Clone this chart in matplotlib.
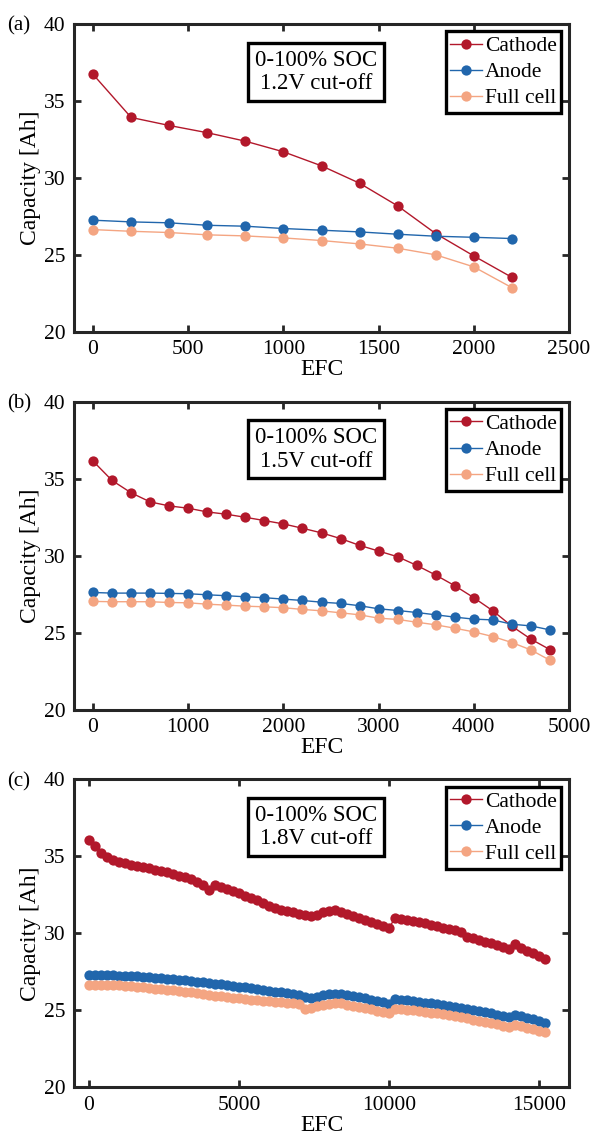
import numpy as np
import matplotlib
matplotlib.use("Agg")
import matplotlib.pyplot as plt

plt.rcParams["font.family"] = ["Liberation Serif", "DejaVu Serif"]
plt.rcParams["mathtext.fontset"] = "stix"

# ── DATA ──────────────────────────────────────────────────────────
efc_a = [0, 200, 400, 600, 800, 1000, 1200, 1400, 1600, 1800, 2000, 2200]
cathode_a = [36.73, 33.93, 33.41, 32.94, 32.39, 31.70, 30.79, 29.66, 28.19, 26.39, 24.94, 23.55]
anode_a = [27.26, 27.15, 27.09, 26.93, 26.87, 26.72, 26.61, 26.50, 26.35, 26.22, 26.15, 26.07]
full_a = [26.65, 26.54, 26.46, 26.31, 26.24, 26.11, 25.94, 25.72, 25.44, 25.01, 24.23, 22.88]

efc_b = [0, 200, 400, 600, 800, 1000, 1200, 1400, 1600, 1800, 2000, 2200, 2400,
         2600, 2800, 3000, 3200, 3400, 3600, 3800, 4000, 4200, 4400, 4600, 4800]
cathode_b = [36.14, 34.88, 34.08, 33.49, 33.23, 33.08, 32.84, 32.69, 32.49, 32.28,
             32.06, 31.78, 31.48, 31.11, 30.67, 30.30, 29.93, 29.37, 28.74, 28.05,
             27.27, 26.42, 25.42, 24.58, 23.90]
anode_b = [27.61, 27.57, 27.57, 27.57, 27.55, 27.53, 27.46, 27.40, 27.33, 27.27,
           27.18, 27.09, 26.98, 26.90, 26.75, 26.55, 26.44, 26.31, 26.16, 26.01,
           25.88, 25.83, 25.55, 25.44, 25.18]
full_b = [27.03, 27.01, 27.01, 27.01, 26.96, 26.94, 26.85, 26.79, 26.72, 26.68,
          26.62, 26.51, 26.42, 26.29, 26.16, 25.94, 25.86, 25.68, 25.51, 25.29,
          25.05, 24.75, 24.36, 23.88, 23.21]

efc_c = list(range(0, 15201, 200))
cathode_c = [36.07, 35.70, 35.24, 34.98, 34.77, 34.65, 34.55, 34.46, 34.40, 34.32,
             34.22, 34.14, 34.05, 33.95, 33.85, 33.75, 33.63, 33.51, 33.36, 33.12,
             32.80, 33.14, 33.00, 32.88, 32.73, 32.62, 32.44, 32.28, 32.17, 32.00,
             31.80, 31.62, 31.54, 31.47, 31.40, 31.27, 31.16, 31.12, 31.18, 31.38,
             31.45, 31.51, 31.40, 31.27, 31.13, 31.00, 30.86, 30.73, 30.60, 30.48,
             30.36, 30.98, 30.95, 30.88, 30.81, 30.74, 30.66, 30.56, 30.46, 30.37,
             30.29, 30.19, 30.10, 29.77, 29.68, 29.56, 29.46, 29.36, 29.22, 29.10,
             28.98, 29.28, 29.04, 28.88, 28.71, 28.52, 28.33]
anode_c = [27.28, 27.29, 27.29, 27.28, 27.27, 27.26, 27.24, 27.22, 27.20, 27.17,
           27.14, 27.11, 27.08, 27.05, 27.02, 26.99, 26.95, 26.91, 26.87, 26.82,
           26.77, 26.73, 26.68, 26.64, 26.59, 26.54, 26.49, 26.44, 26.38, 26.33,
           26.27, 26.21, 26.16, 26.12, 26.08, 26.02, 25.84, 25.82, 25.88, 25.99,
           26.03, 26.07, 26.08, 26.00, 25.94, 25.88, 25.79, 25.69, 25.60, 25.52,
           25.44, 25.72, 25.69, 25.65, 25.60, 25.55, 25.50, 25.46, 25.41, 25.35,
           25.29, 25.23, 25.16, 25.08, 25.00, 24.94, 24.87, 24.80, 24.72, 24.64,
           24.57, 24.72, 24.61, 24.51, 24.42, 24.30, 24.16]
full_c = [26.66, 26.67, 26.67, 26.66, 26.64, 26.62, 26.60, 26.57, 26.53, 26.49,
          26.45, 26.41, 26.37, 26.33, 26.29, 26.25, 26.20, 26.16, 26.11, 26.06,
          26.01, 25.96, 25.92, 25.87, 25.82, 25.78, 25.74, 25.70, 25.66, 25.62,
          25.58, 25.54, 25.51, 25.48, 25.45, 25.42, 25.12, 25.18, 25.28, 25.38,
          25.44, 25.47, 25.48, 25.38, 25.31, 25.24, 25.16, 25.07, 24.99, 24.91,
          24.80, 25.11, 25.08, 25.04, 25.00, 24.96, 24.91, 24.86, 24.80, 24.75,
          24.69, 24.62, 24.56, 24.48, 24.40, 24.33, 24.26, 24.19, 24.10, 24.00,
          23.92, 24.06, 23.96, 23.88, 23.78, 23.68, 23.58]

labels = ["Cathode", "Anode", "Full cell"]
colors = ["#B2182B", "#2166AC", "#F4A582"]
# ─────────────────────────────────────────────────────────────────

panels = [
    ("(a)", "1.2V cut-off", efc_a, [cathode_a, anode_a, full_a],
     (-100, 2500), [0, 500, 1000, 1500, 2000, 2500], 0.709),
    ("(b)", "1.5V cut-off", efc_b, [cathode_b, anode_b, full_b],
     (-200, 5000), [0, 1000, 2000, 3000, 4000, 5000], 0.378),
    ("(c)", "1.8V cut-off", efc_c, [cathode_c, anode_c, full_c],
     (-500, 16000), [0, 5000, 10000, 15000], 0.047),
]

W, H = 593, 1141
fig = plt.figure(figsize=(W / 100, H / 100), dpi=100)
spine_col = "#262626"

for tag, cutoff, x, series, xlim, xticks, bottom in panels:
    ax = fig.add_axes([74 / W, bottom, 495 / W, 0.27])
    for y, lab, col in zip(series, labels, colors):
        ax.plot(x, y, "-o", color=col, label=lab, linewidth=1.0,
                markersize=7.4, markeredgewidth=0)

    ax.set_xlim(*xlim)
    ax.set_ylim(20, 40)
    ax.set_xticks(xticks)
    ax.set_yticks([20, 25, 30, 35, 40])
    ax.tick_params(direction="in", length=5, width=2, labelsize=15.5,
                   top=True, right=True, color=spine_col, pad=6)
    for sp in ax.spines.values():
        sp.set_linewidth(2.2)
        sp.set_color(spine_col)

    ax.set_xlabel("EFC", fontsize=17, labelpad=0)
    ax.set_ylabel("Capacity [Ah]", fontsize=17, labelpad=2)

    ax.text(0.489, 0.845, "0-100% SOC\n" + cutoff, transform=ax.transAxes,
            ha="center", va="center", fontsize=16.5, linespacing=1.15,
            bbox=dict(boxstyle="square,pad=0.3", facecolor="white",
                      edgecolor="black", linewidth=2.4))

    leg = ax.legend(loc="upper right", fontsize=15.5, handlelength=1.45,
                    handletextpad=0.15, borderpad=0.22, labelspacing=0.28,
                    borderaxespad=0.35, fancybox=False, framealpha=1)
    leg.get_frame().set_edgecolor("black")
    leg.get_frame().set_linewidth(2.4)

    fig.text(7 / W, bottom + 0.27 - 0.002, tag, fontsize=15, va="center", ha="left")

fig.savefig("out.png", dpi=100)
